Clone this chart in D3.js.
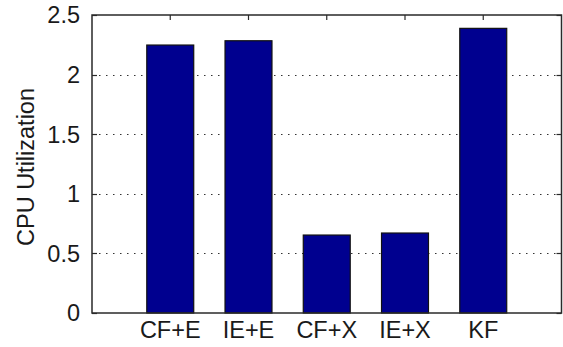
<!DOCTYPE html>
<html>
<head>
<meta charset="utf-8">
<script src="https://cdn.jsdelivr.net/npm/d3@7"></script>
<style>
  html, body { margin: 0; padding: 0; background: #fff; }
  svg { display: block; }
  text { font-family: "Liberation Sans", Arial, Helvetica, sans-serif; fill: #1a1a1a; }
</style>
</head>
<body>
<svg id="chart" width="563" height="347"></svg>
<script>
// CPU utilization per configuration
const categories = ["CF+E", "IE+E", "CF+X", "IE+X", "KF"];
const cpuUtilization = [2.248, 2.284, 0.654, 0.671, 2.388];
const yTicks = [0, 0.5, 1, 1.5, 2, 2.5];
const yTickLabels = ["0", "0.5", "1", "1.5", "2", "2.5"];

const svg = d3.select("#chart");
const plot = { left: 92, right: 561.5, top: 15, bottom: 313 };
const fontSize = 23.5;

// Positions 1..5 on a [0, 6] range, bars 0.6 units wide
const x = d3.scaleLinear().domain([0, categories.length + 1]).range([plot.left, plot.right]);
const y = d3.scaleLinear().domain([0, 2.5]).range([plot.bottom, plot.top]);
const barWidth = (x(1) - x(0)) * 0.6;

const axisColor = "#2a2a2a";

// dotted horizontal grid
svg.append("g")
  .selectAll("line")
  .data(yTicks.filter(v => v > 0 && v < 2.5))
  .join("line")
  .attr("x1", plot.left).attr("x2", plot.right)
  .attr("y1", d => Math.round(y(d)) + 0.5).attr("y2", d => Math.round(y(d)) + 0.5)
  .attr("stroke", "#333")
  .attr("stroke-width", 1)
  .attr("stroke-dasharray", "1.5,5.5");

// inward ticks on all four sides
const tickLen = 5;
const tg = svg.append("g").attr("stroke", axisColor).attr("stroke-width", 1.2);
yTicks.forEach(v => {
  const yy = Math.round(y(v)) + 0.5;
  tg.append("line").attr("x1", plot.left).attr("x2", plot.left + tickLen).attr("y1", yy).attr("y2", yy);
  tg.append("line").attr("x1", plot.right).attr("x2", plot.right - tickLen).attr("y1", yy).attr("y2", yy);
});
categories.forEach((c, i) => {
  const xx = x(i + 1);
  tg.append("line").attr("x1", xx).attr("x2", xx).attr("y1", plot.top).attr("y2", plot.top + tickLen);
  tg.append("line").attr("x1", xx).attr("x2", xx).attr("y1", plot.bottom).attr("y2", plot.bottom - tickLen);
});

// bars
svg.append("g")
  .selectAll("rect")
  .data(cpuUtilization)
  .join("rect")
  .attr("x", (d, i) => x(i + 1) - barWidth / 2)
  .attr("width", barWidth)
  .attr("y", d => y(d))
  .attr("height", d => y(0) - y(d))
  .attr("fill", "#00008f")
  .attr("stroke", "#111")
  .attr("stroke-width", 1.2);

// box
svg.append("rect")
  .attr("x", plot.left).attr("y", plot.top)
  .attr("width", plot.right - plot.left).attr("height", plot.bottom - plot.top)
  .attr("fill", "none")
  .attr("stroke", axisColor)
  .attr("stroke-width", 1.5);

// y tick labels
svg.append("g")
  .selectAll("text")
  .data(yTicks)
  .join("text")
  .attr("x", plot.left - 12)
  .attr("y", d => y(d))
  .attr("dy", "0.36em")
  .attr("text-anchor", "end")
  .attr("font-size", fontSize)
  .text((d, i) => yTickLabels[i]);

// x tick labels
svg.append("g")
  .selectAll("text")
  .data(categories)
  .join("text")
  .attr("x", (d, i) => x(i + 1))
  .attr("y", plot.bottom + 25)
  .attr("text-anchor", "middle")
  .attr("font-size", fontSize)
  .text(d => d);

// y axis title
svg.append("text")
  .attr("transform", `translate(34, ${(plot.top + plot.bottom) / 2 + 3}) rotate(-90)`)
  .attr("text-anchor", "middle")
  .attr("font-size", fontSize)
  .text("CPU Utilization");
</script>
</body>
</html>
